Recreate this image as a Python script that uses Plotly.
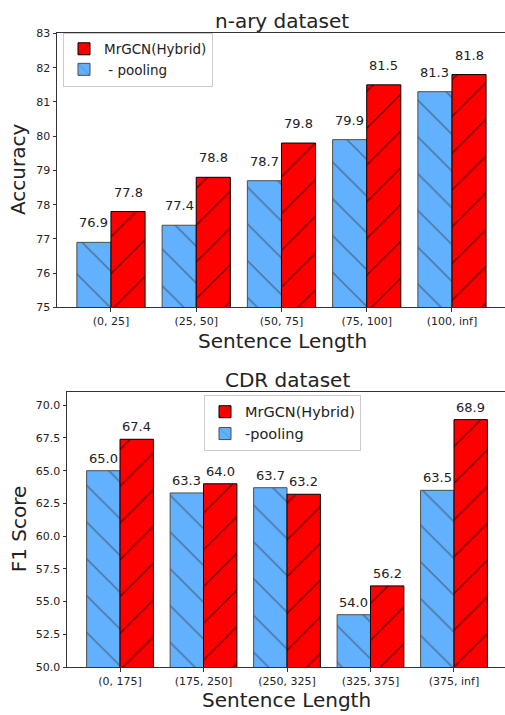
import plotly.graph_objects as go

# ---------------- data ----------------
nary_categories = ["(0, 25]", "(25, 50]", "(50, 75]", "(75, 100]", "(100, inf]"]
nary_pooling = [76.9, 77.4, 78.7, 79.9, 81.3]
nary_hybrid = [77.8, 78.8, 79.8, 81.5, 81.8]

cdr_categories = ["(0, 175]", "(175, 250]", "(250, 325]", "(325, 375]", "(375, inf]"]
cdr_pooling = [65.0, 63.3, 63.7, 54.0, 63.5]
cdr_hybrid = [67.4, 64.0, 63.2, 56.2, 68.9]

nary_yticks = [75, 76, 77, 78, 79, 80, 81, 82, 83]
cdr_yticks = [50.0, 52.5, 55.0, 57.5, 60.0, 62.5, 65.0, 67.5, 70.0]

# ---------------- style ----------------
W, H = 505, 715
FONT = "DejaVu Sans"
BLUE = "#62B1FF"
BLUE_EDGE = "#4D4D4D"
RED = "#FF0000"
AXIS_COL = "#333333"
TEXT_COL = "#222222"

def px_x(p):
    return p / W

def px_y(p):
    return 1 - p / H

fig = go.Figure()

def add_pair(xaxis, yaxis, cats, pool, hyb, pool_name, hyb_name, legend):
    idx = list(range(len(cats)))
    fig.add_trace(go.Bar(
        x=idx, y=pool, name=pool_name, xaxis=xaxis, yaxis=yaxis,
        marker=dict(color=BLUE, line=dict(color=BLUE_EDGE, width=1),
                    pattern=dict(shape="\\", size=26, solidity=0.06,
                                 fgcolor="#333333", bgcolor=BLUE)),
        offsetgroup="a", legend=legend, legendrank=2, hoverinfo="skip",
    ))
    fig.add_trace(go.Bar(
        x=idx, y=hyb, name=hyb_name, xaxis=xaxis, yaxis=yaxis,
        marker=dict(color=RED, line=dict(color="black", width=1),
                    pattern=dict(shape="/", size=26, solidity=0.06,
                                 fgcolor="black", bgcolor=RED)),
        offsetgroup="b", legend=legend, legendrank=1, hoverinfo="skip",
    ))

add_pair("x", "y", nary_categories, nary_pooling, nary_hybrid,
         "\u00a0- pooling", "MrGCN(Hybrid)", "legend")
add_pair("x2", "y2", cdr_categories, cdr_pooling, cdr_hybrid,
         "-pooling", "MrGCN(Hybrid)", "legend2")

annotations = []

def value_labels(xref, yref, pool, hyb, shift):
    for i, v in enumerate(pool):
        annotations.append(dict(x=i - 0.2, y=v, xref=xref, yref=yref, text=f"{v:.1f}",
                                showarrow=False, yanchor="bottom", yshift=shift,
                                font=dict(family=FONT, size=13, color=TEXT_COL)))
    for i, v in enumerate(hyb):
        annotations.append(dict(x=i + 0.2, y=v, xref=xref, yref=yref, text=f"{v:.1f}",
                                showarrow=False, yanchor="bottom", yshift=shift,
                                font=dict(family=FONT, size=13, color=TEXT_COL)))

value_labels("x", "y", nary_pooling, nary_hybrid, 10)
value_labels("x2", "y2", cdr_pooling, cdr_hybrid, 3)

def text_ann(text, x, y, size=20, angle=0, yanchor="middle"):
    annotations.append(dict(text=text, x=px_x(x), y=px_y(y), xref="paper", yref="paper",
                            showarrow=False, xanchor="center", yanchor=yanchor,
                            borderpad=0, textangle=angle,
                            font=dict(family=FONT, size=size, color=TEXT_COL)))

text_ann("n-ary dataset", 282, 15)
text_ann("Sentence Length", 282, 341)
text_ann("Accuracy", 18, 167, angle=-90)
text_ann("CDR dataset", 287, 381)
text_ann("Sentence Length", 286, 707)
text_ann("F1 Score", 19, 533, angle=-90)

axis_common = dict(showline=True, linecolor=AXIS_COL, linewidth=1,
                   ticks="outside", ticklen=3.5, tickwidth=1, tickcolor=AXIS_COL,
                   showgrid=False, zeroline=False,
                   tickfont=dict(family=FONT, size=11, color=TEXT_COL))

fig.update_layout(
    width=W, height=H,
    margin=dict(l=0, r=0, t=0, b=0),
    paper_bgcolor="white", plot_bgcolor="white",
    barmode="group", bargap=0.2, bargroupgap=0,
    font=dict(family=FONT, color=TEXT_COL),
    xaxis=dict(domain=[px_x(57), 1], range=[-0.633, 4.622], mirror=True,
               tickmode="array", tickvals=list(range(5)), ticktext=nary_categories,
               anchor="y", **axis_common),
    yaxis=dict(domain=[px_y(307), px_y(28)], range=[75, 83], mirror=False,
               tickmode="array", tickvals=nary_yticks,
               ticktext=[str(t) for t in nary_yticks], anchor="x", **axis_common),
    xaxis2=dict(domain=[px_x(67), 1], range=[-0.635, 4.611], mirror=True,
                tickmode="array", tickvals=list(range(5)), ticktext=cdr_categories,
                anchor="y2", **axis_common),
    yaxis2=dict(domain=[px_y(673.3), px_y(393.3)], range=[50, 71], mirror=False,
                tickmode="array", tickvals=cdr_yticks,
                ticktext=[f"{t:.1f}" for t in cdr_yticks], anchor="x2", **axis_common),
    legend=dict(x=px_x(63), y=px_y(27), xanchor="left", yanchor="top",
                bgcolor="rgba(255,255,255,0.8)", bordercolor="#CCCCCC", borderwidth=1,
                font=dict(family=FONT, size=13.5, color=TEXT_COL), itemwidth=30,
                tracegroupgap=0),
    legend2=dict(x=px_x(204), y=px_y(396), xanchor="left", yanchor="top",
                 bgcolor="rgba(255,255,255,0.8)", bordercolor="#CCCCCC", borderwidth=1,
                 font=dict(family=FONT, size=14.5, color=TEXT_COL), itemwidth=30,
                 tracegroupgap=0),
    annotations=annotations,
    showlegend=True,
    hovermode=False,
)

fig.write_html(
    "out.html",
    config={"displayModeBar": False},
    post_script="document.body.style.margin='0';document.body.style.padding='0';"
                "document.documentElement.style.overflow='hidden';",
)
